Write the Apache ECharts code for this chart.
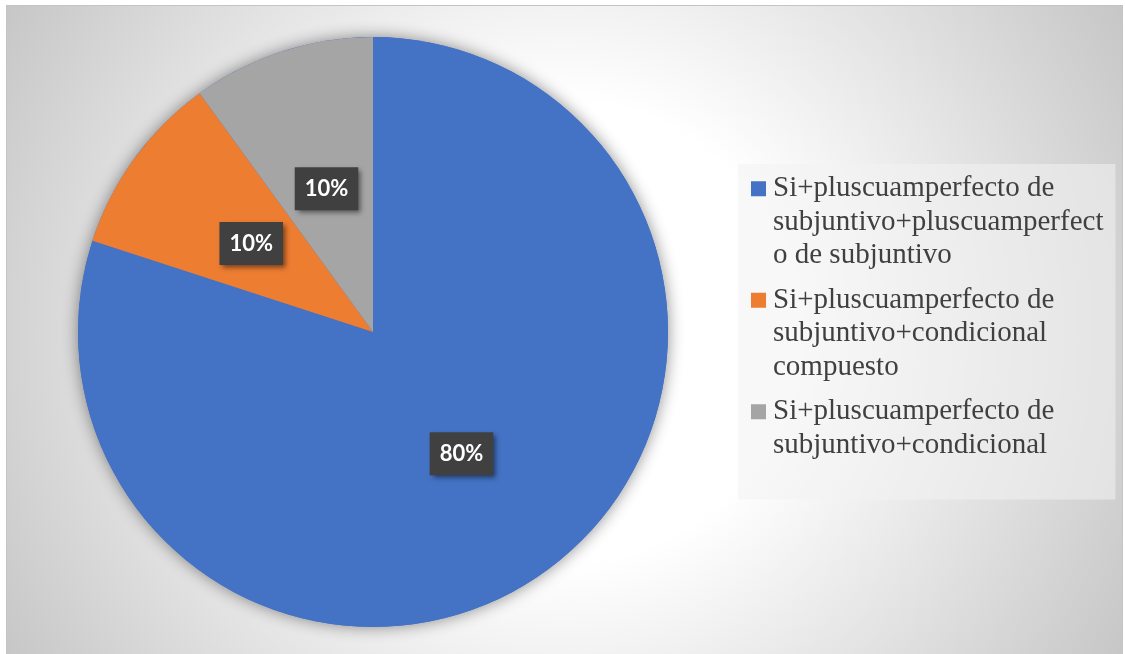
<!DOCTYPE html>
<html><head><meta charset="utf-8">
<script src="https://cdn.jsdelivr.net/npm/echarts@6/dist/echarts.min.js"></script>
<style>
html,body{margin:0;padding:0;background:#fff;width:1125px;height:654px;overflow:hidden;}
#bg{position:absolute;left:6px;top:5px;width:1115px;height:660px;border:1px solid #c4c4c4;
 background:radial-gradient(circle 650px at 557px 326px, #ffffff 0px, #ffffff 230px, #c6c6c6 650px);}
#chart{position:absolute;left:0;top:0;width:1125px;height:654px;}
</style></head>
<body>
<div id="bg"></div>
<div id="chart"></div>
<script>
var categories = [
  'Si+pluscuamperfecto de\nsubjuntivo+pluscuamperfect\no de subjuntivo',
  'Si+pluscuamperfecto de\nsubjuntivo+condicional\ncompuesto',
  'Si+pluscuamperfecto de\nsubjuntivo+condicional'
];
var values = [80, 10, 10];
var colors = ['#4472C4', '#ED7D31', '#A5A5A5'];

var total = values.reduce(function(a, b){ return a + b; }, 0);
var chart = echarts.init(document.getElementById('chart'), null, {renderer: 'canvas'});
chart.setOption({
  animation: false,
  backgroundColor: 'transparent',
  legend: {
    orient: 'vertical',
    left: 738,
    top: 164,
    data: categories,
    selectedMode: false,
    icon: 'path://M0,9h15v15h-15z M0,0 M0,100',
    itemWidth: 15,
    itemHeight: 100,
    itemGap: 11,
    padding: [8, 12, 4, 13],
    backgroundColor: 'rgba(242,242,242,0.55)',
    formatter: function(name){
      var n = name.split('\n').length;
      return n < 3 ? name + '\n' : name;
    },
    textStyle: {
      fontFamily: 'Liberation Serif',
      fontSize: 29,
      lineHeight: 33.5,
      color: '#404040',
      padding: [0, 0, 0, 2]
    }
  },
  series: [
    {
      type: 'pie',
      silent: true,
      z: 1,
      center: [373, 332],
      radius: 295,
      label: {show: false},
      labelLine: {show: false},
      data: [{value: total, name: '', itemStyle: {color: colors[0], shadowBlur: 16, shadowColor: 'rgba(0,0,0,0.45)'}}]
    },
    {
      type: 'pie',
      z: 2,
      center: [373, 332],
      radius: 295,
      startAngle: 90,
      clockwise: true,
      emphasis: {disabled: true},
      labelLine: {show: false},
      label: {
        show: true,
        position: 'inside',
        formatter: '{d}%',
        color: '#ffffff',
        fontFamily: 'Lato',
        fontWeight: 'bold',
        fontSize: 22,
        lineHeight: 21,
        backgroundColor: '#404040',
        padding: [11, 10, 11, 10],
        shadowColor: 'rgba(0,0,0,0.5)',
        shadowBlur: 5,
        shadowOffsetX: 3,
        shadowOffsetY: 3
      },
      data: categories.map(function(c, i){
        return {name: c, value: values[i], itemStyle: {color: colors[i]}};
      })
    }
  ]
});
</script>
</body></html>
